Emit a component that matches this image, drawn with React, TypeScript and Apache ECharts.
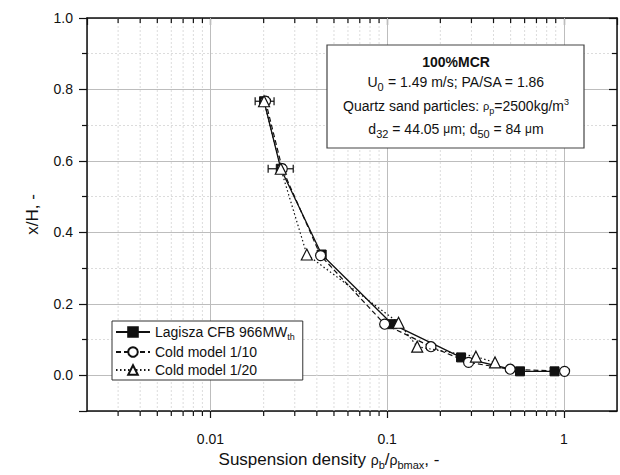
import React, { useEffect, useRef } from "react";
import * as echarts from "echarts";

const FONT = "'Liberation Sans', Arial, Helvetica, sans-serif";

const seriesNames = ["Lagisza CFB 966MW", "Cold model 1/10", "Cold model 1/20"];

const lagiszaX = [0.0201, 0.025, 0.0426, 0.107, 0.262, 0.565, 0.886];
const lagiszaY = [0.767, 0.578, 0.338, 0.143, 0.05, 0.011, 0.011];

const cold10X = [0.0205, 0.0255, 0.042, 0.0968, 0.177, 0.289, 0.497, 1.01];
const cold10Y = [0.767, 0.578, 0.335, 0.143, 0.08, 0.036, 0.017, 0.011];

const cold20X = [0.0201, 0.025, 0.0351, 0.116, 0.148, 0.318, 0.408];
const cold20Y = [0.767, 0.578, 0.338, 0.147, 0.08, 0.052, 0.036];

const errX = [0.0201, 0.025];
const errY = [0.767, 0.578];
const errLow = [0.0179, 0.0212];
const errHigh = [0.0229, 0.0294];

const xMin = 0.002;
const xMax = 2;
const yMin = -0.1;
const yMax = 1.0;

const majorX = [0.01, 0.1, 1];

// minor log ticks: 2..9 x each decade inside the range
const minorX: number[] = [];
for (let e = -3; e <= 0; e++) {
  for (let m = 2; m <= 9; m++) {
    const v = m * Math.pow(10, e);
    if (v > xMin * 1.0001 && v < xMax * 0.9999) minorX.push(+v.toPrecision(3));
  }
}

const zip = (xs: number[], ys: number[]) => xs.map((x, i) => [x, ys[i]]);

export default function App() {
  const ref = useRef<HTMLDivElement>(null);
  useEffect(() => {
    if (!ref.current) return;
    const chart = echarts.init(ref.current, undefined, { renderer: "svg" });
    const txt = { fontFamily: FONT, color: "#111" };
    const Z = 100;
    const option: any = {
      animation: false,
      backgroundColor: "#fff",
      grid: { left: 87, right: 3, top: 18, bottom: 63, containLabel: false },
      legend: {
        data: seriesNames,
        orient: "vertical",
        left: 112,
        top: 321,
        padding: [4, 8, 3, 3],
        itemGap: 4,
        itemWidth: 34,
        itemHeight: 12,
        backgroundColor: "#fff",
        borderColor: "#333",
        borderWidth: 1,
        borderRadius: 0,
        z: 50,
        textStyle: {
          fontSize: 14,
          fontFamily: FONT,
          color: "#111",
          rich: {
            n: { fontSize: 14, fontFamily: FONT, color: "#111" },
            s: { fontSize: 9, fontFamily: FONT, color: "#111", padding: [9, 0, 0, 0] },
          },
        },
        formatter: (name: string) =>
          name === seriesNames[0] ? `{n|${name}}{s|th}` : `{n|${name}}`,
      },
      xAxis: [
        {
          type: "log",
          min: xMin,
          max: xMax,
          logBase: 10,
          position: "bottom",
          name: "{n|Suspension density }{g|ρ}{s|b}{n|/}{g|ρ}{s|bmax}{n|, -}",
          nameLocation: "middle",
          nameGap: 38,
          nameTextStyle: {
            padding: [0, 46, 0, 0],
            rich: {
              n: { fontSize: 17, fontFamily: FONT, color: "#111" },
              g: { fontSize: 14, fontFamily: FONT, color: "#111" },
              s: { fontSize: 11, fontFamily: FONT, color: "#111", padding: [10, 0, 0, 0] },
            },
          },
          axisLine: { show: true, onZero: false, lineStyle: { color: "#111", width: 1.5 } },
          axisTick: { show: true, inside: false, length: 7, lineStyle: { color: "#111", width: 1.2 } },
          axisLabel: {
            ...txt,
            fontSize: 14,
            margin: 21,
            showMinLabel: false,
            showMaxLabel: false,
            formatter: (v: number) => {
              const l = Math.log10(v);
              const r = Math.round(l);
              if (Math.abs(l - r) > 1e-6) return "";
              return r >= 0 ? String(Math.pow(10, r)) : Math.pow(10, r).toFixed(-r);
            },
          },
          splitLine: { show: true, lineStyle: { color: "#bdbdbd", width: 1 } },
        },
        {
          type: "log",
          min: xMin,
          max: xMax,
          logBase: 10,
          position: "top",
          axisLine: { show: true, onZero: false, lineStyle: { color: "#111", width: 1.5 } },
          axisTick: { show: true, inside: true, length: 7, lineStyle: { color: "#111", width: 1.2 } },
          axisLabel: { show: false },
          splitLine: { show: false },
        },
      ],
      yAxis: [
        {
          type: "value",
          min: yMin,
          max: yMax,
          position: "left",
          name: "x/H, -",
          nameLocation: "middle",
          nameGap: 46,
          nameTextStyle: { fontSize: 17, fontFamily: FONT, color: "#111" },
          axisLine: { show: true, onZero: false, lineStyle: { color: "#111", width: 1.5 } },
          axisTick: { show: true, inside: false, length: 8, lineStyle: { color: "#111", width: 1.2 } },
          minorTick: { show: true, splitNumber: 2, length: 5, lineStyle: { color: "#111", width: 1.2 } },
          minorSplitLine: { show: true, lineStyle: { color: "#dcdcdc", width: 1, type: [2, 2] } },
          axisLabel: {
            ...txt,
            fontSize: 14,
            margin: 14,
            formatter: (v: number) => (v < -0.05 ? "" : v.toFixed(1)),
          },
          splitLine: { show: true, lineStyle: { color: "#bdbdbd", width: 1 } },
        },
        {
          type: "value",
          min: yMin,
          max: yMax,
          position: "right",
          axisLine: { show: true, onZero: false, lineStyle: { color: "#111", width: 1.5 } },
          axisTick: { show: true, inside: true, length: 8, lineStyle: { color: "#111", width: 1.2 } },
          minorTick: { show: true, splitNumber: 2, length: 5, lineStyle: { color: "#111", width: 1.2 } },
          axisLabel: { show: false },
          splitLine: { show: false },
        },
      ],
      graphic: [
        {
          type: "rect",
          z: Z,
          shape: { x: 327, y: 45, width: 257, height: 103 },
          style: { fill: "#fff", stroke: "#444", lineWidth: 1.2 },
        },
        {
          type: "text",
          z: Z + 1,
          x: 456,
          y: 62,
          style: {
            text: "100%MCR",
            font: `bold 14px ${FONT}`,
            fill: "#111",
            align: "center",
            verticalAlign: "middle",
          },
        },
        {
          type: "text",
          z: Z + 1,
          x: 456,
          y: 82,
          style: {
            text: "{n|U}{s|0}{n| = 1.49 m/s; PA/SA = 1.86}",
            align: "center",
            verticalAlign: "middle",
            rich: {
              n: { fontSize: 14, fontFamily: FONT, fill: "#111", lineHeight: 18 },
              s: { fontSize: 11, fontFamily: FONT, fill: "#111", lineHeight: 18, padding: [9, 0, 0, 0] },
            },
          },
        },
        {
          type: "text",
          z: Z + 1,
          x: 456,
          y: 106,
          style: {
            text: "{n|Quartz sand particles: }{g|ρ}{s|p}{n|=2500kg/m}{u|3}",
            align: "center",
            verticalAlign: "middle",
            rich: {
              n: { fontSize: 14, fontFamily: FONT, fill: "#111", lineHeight: 18 },
              g: { fontSize: 11, fontFamily: FONT, fill: "#111", lineHeight: 18 },
              s: { fontSize: 9, fontFamily: FONT, fill: "#111", lineHeight: 18, padding: [9, 0, 0, 0] },
              u: { fontSize: 9, fontFamily: FONT, fill: "#111", lineHeight: 18, padding: [0, 0, 9, 0] },
            },
          },
        },
        {
          type: "text",
          z: Z + 1,
          x: 456,
          y: 129,
          style: {
            text: "{n|d}{s|32}{n| = 44.05 }{g|μ}{n|m; d}{s|50}{n| = 84 }{g|μ}{n|m}",
            align: "center",
            verticalAlign: "middle",
            rich: {
              n: { fontSize: 14, fontFamily: FONT, fill: "#111", lineHeight: 18 },
              g: { fontSize: 12, fontFamily: FONT, fill: "#111", lineHeight: 18 },
              s: { fontSize: 11, fontFamily: FONT, fill: "#111", lineHeight: 18, padding: [9, 0, 0, 0] },
            },
          },
        },
      ],
      series: [
        {
          type: "custom",
          name: "minorGrid",
          xAxisIndex: 0,
          yAxisIndex: 0,
          z: 1,
          silent: true,
          clip: false,
          data: minorX.map((v) => [v, 0.5]),
          encode: { x: 0, y: 1 },
          renderItem: (params: any, api: any) => {
            const cs = params.coordSys;
            const x = api.coord([api.value(0), 0.5])[0];
            const top = cs.y;
            const bot = cs.y + cs.height;
            return {
              type: "group",
              children: [
                {
                  type: "line",
                  shape: { x1: x, y1: top, x2: x, y2: bot },
                  style: { stroke: "#dcdcdc", lineWidth: 1, lineDash: [2, 2] },
                },
                {
                  type: "line",
                  shape: { x1: x, y1: bot, x2: x, y2: bot + 5 },
                  style: { stroke: "#111", lineWidth: 1.2 },
                },
                {
                  type: "line",
                  shape: { x1: x, y1: top, x2: x, y2: top + 5 },
                  style: { stroke: "#111", lineWidth: 1.2 },
                },
              ],
            };
          },
        },
        {
          type: "custom",
          name: "majorGrid",
          xAxisIndex: 0,
          yAxisIndex: 0,
          z: 1,
          silent: true,
          clip: false,
          data: majorX.map((v) => [v, 0.5]),
          encode: { x: 0, y: 1 },
          renderItem: (params: any, api: any) => {
            const cs = params.coordSys;
            const x = Math.round(api.coord([api.value(0), 0.5])[0]) + 0.5;
            return {
              type: "line",
              shape: { x1: x, y1: cs.y, x2: x, y2: cs.y + cs.height },
              style: { stroke: "#bdbdbd", lineWidth: 1 },
            };
          },
        },
        {
          type: "custom",
          name: "errorBars",
          xAxisIndex: 0,
          yAxisIndex: 0,
          z: 3,
          silent: true,
          data: errX.map((x, i) => [x, errY[i], errLow[i], errHigh[i]]),
          encode: { x: 0, y: 1 },
          renderItem: (params: any, api: any) => {
            const y = api.value(1);
            const p1 = api.coord([api.value(2), y]);
            const p2 = api.coord([api.value(3), y]);
            const st = { stroke: "#111", lineWidth: 1.2 };
            return {
              type: "group",
              children: [
                { type: "line", shape: { x1: p1[0], y1: p1[1], x2: p2[0], y2: p2[1] }, style: st },
                { type: "line", shape: { x1: p1[0], y1: p1[1] - 4, x2: p1[0], y2: p1[1] + 4 }, style: st },
                { type: "line", shape: { x1: p2[0], y1: p2[1] - 4, x2: p2[0], y2: p2[1] + 4 }, style: st },
              ],
            };
          },
        },
        {
          type: "line",
          name: seriesNames[0],
          data: zip(lagiszaX, lagiszaY),
          symbol: "rect",
          symbolSize: 9,
          z: 4,
          lineStyle: { color: "#111", width: 1.3, type: "solid" },
          itemStyle: { color: "#111", borderColor: "#111", borderWidth: 1 },
        },
        {
          type: "line",
          name: seriesNames[1],
          data: zip(cold10X, cold10Y),
          symbol: "circle",
          symbolSize: 10,
          z: 5,
          lineStyle: { color: "#111", width: 1.2, type: [5, 3] },
          itemStyle: { color: "#fff", borderColor: "#111", borderWidth: 1.2 },
        },
        {
          type: "line",
          name: seriesNames[2],
          data: zip(cold20X, cold20Y),
          symbol: "triangle",
          symbolSize: 11,
          z: 6,
          lineStyle: { color: "#111", width: 1.2, type: [1.5, 2.5] },
          itemStyle: { color: "#fff", borderColor: "#111", borderWidth: 1.2 },
        },
      ],
    };
    chart.setOption(option);
    return () => chart.dispose();
  }, []);
  return (
    <div
      ref={ref}
      style={{ position: "fixed", left: 0, top: 0, width: 620, height: 475, background: "#fff" }}
    />
  );
}
